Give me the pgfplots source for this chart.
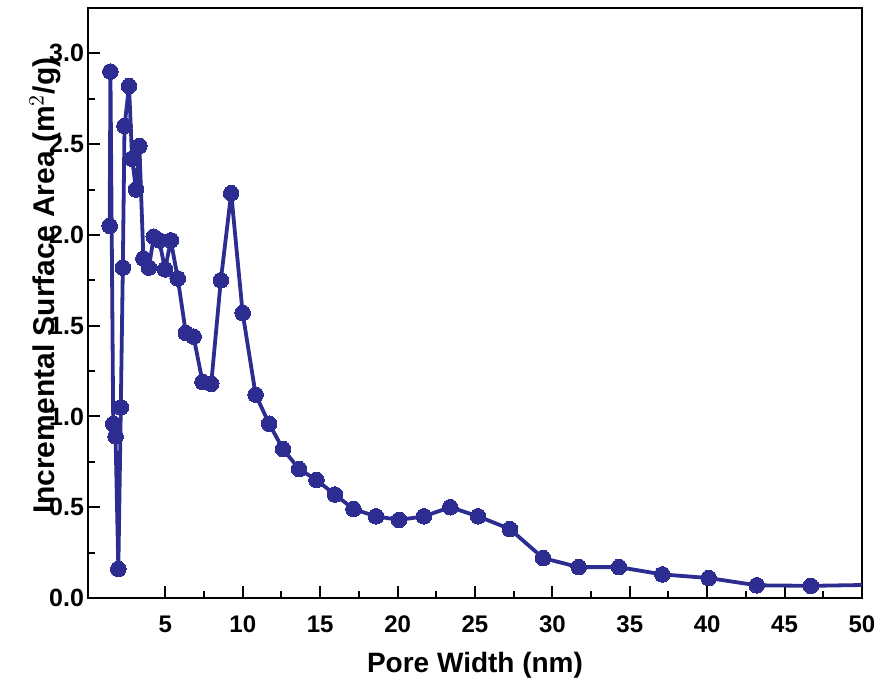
\documentclass[border=0pt]{standalone}
\usepackage{fontspec}
\setmainfont{Liberation Sans}
\usepackage{pgfplots}
\pgfplotsset{compat=1.18}

\definecolor{poreblue}{RGB}{45,45,145}

\begin{document}
\begin{tikzpicture}
% fixed page frame around the axis box
\path[use as bounding box] (-44pt,-47pt) rectangle (397.5pt,299pt);
\begin{axis}[
  at={(0,0)}, anchor=south west,
  scale only axis,
  width=387pt, height=295pt,
  xmin=0, xmax=50,
  ymin=0, ymax=3.25,
  xtick={5,10,...,50},
  ytick={0,0.5,...,3.0},
  minor x tick num=1,
  minor y tick num=1,
  tick pos=left,
  tick align=inside,
  major tick length=6pt,
  minor tick length=3.5pt,
  every tick/.style={black, line width=1pt},
  axis line style={line width=1.2pt},
  /pgf/number format/assume math mode=true,
  xticklabel style={font=\fontsize{12}{14}\selectfont\bfseries, yshift=-5.5pt},
  yticklabel style={font=\fontsize{12.5}{14}\selectfont\bfseries, xshift=1.5pt},
  xticklabel={\pgfmathprintnumber[fixed,precision=0]{\tick}},
  yticklabel={\pgfmathprintnumber[fixed,fixed zerofill,precision=1]{\tick}},
  xlabel={Pore Width (nm)},
  ylabel={Incremental Surface Area (m$^{2}$/g)},
  xlabel style={font=\fontsize{14}{16}\selectfont\bfseries,
    at={(axis description cs:0.5,0)}, anchor=center, yshift=-33.5pt},
  ylabel style={font=\fontsize{15}{17}\selectfont\bfseries,
    at={(axis description cs:0,0.53)}, anchor=center, yshift=21.5pt},
  clip=true,
]
\addplot[color=poreblue, line width=1.9pt, line join=round, mark=*, mark size=3.9pt,
  mark options={solid, fill=poreblue, draw=poreblue, line width=0pt}]
  coordinates {
  (1.40,2.05) (1.45,2.90) (1.63,0.96) (1.78,0.89) (1.96,0.16)
  (2.12,1.05) (2.25,1.82) (2.36,2.60) (2.65,2.82) (2.85,2.42)
  (3.10,2.25) (3.32,2.49) (3.58,1.87) (3.93,1.82) (4.25,1.99)
  (4.60,1.97) (4.98,1.81) (5.35,1.97) (5.80,1.76) (6.32,1.46)
  (6.82,1.44) (7.40,1.19) (7.96,1.18) (8.58,1.75) (9.25,2.23)
  (9.99,1.57) (10.83,1.12) (11.70,0.96) (12.60,0.82) (13.64,0.71)
  (14.76,0.65) (15.95,0.57) (17.15,0.49) (18.60,0.45) (20.10,0.43)
  (21.70,0.45) (23.40,0.50) (25.20,0.45) (27.25,0.38) (29.40,0.22)
  (31.70,0.17) (34.30,0.17) (37.10,0.13) (40.10,0.11) (43.20,0.07)
  (46.70,0.067) (52.50,0.075)
  };
\end{axis}
\end{tikzpicture}
\end{document}
